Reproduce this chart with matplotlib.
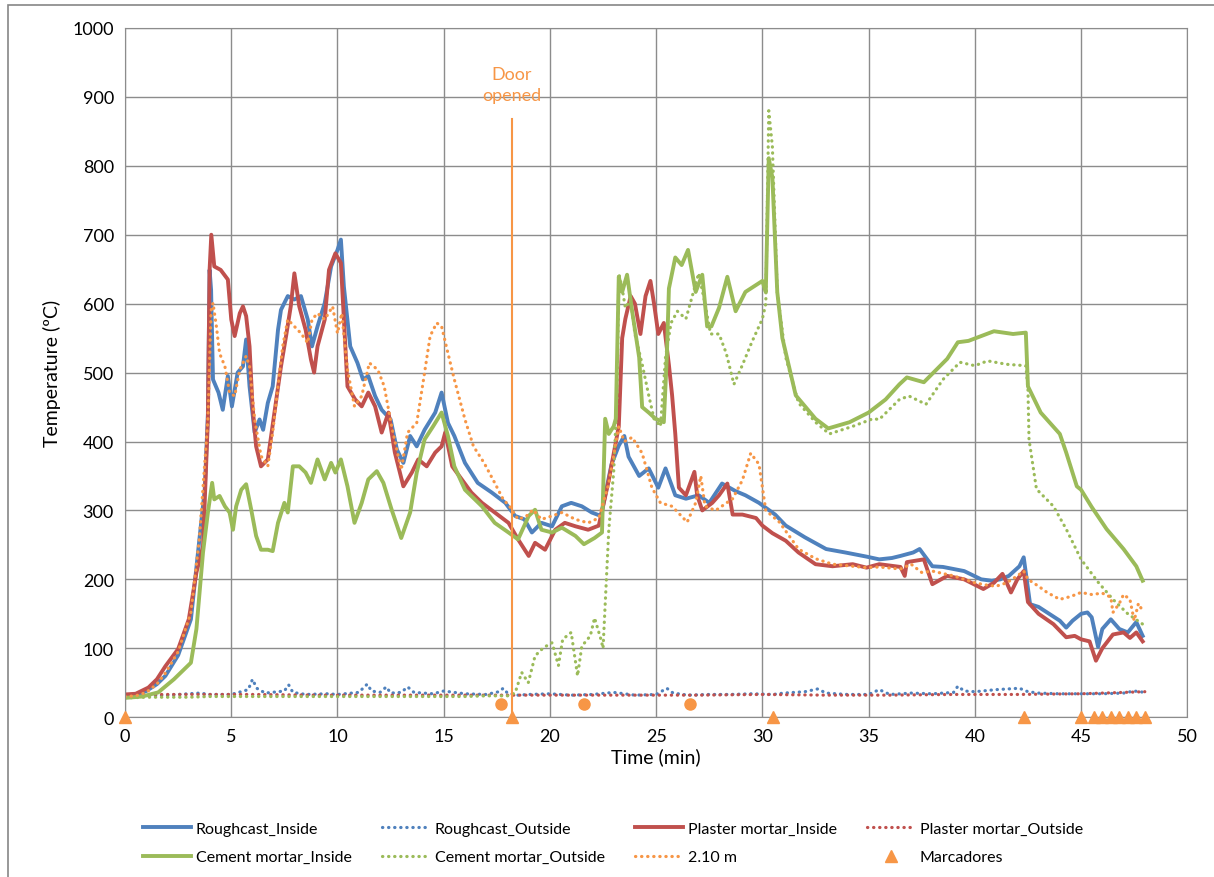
import matplotlib
matplotlib.use('Agg')
import matplotlib.pyplot as plt
from matplotlib.patches import Rectangle

# Temperature records (time in min, temperature in degC)
rough_in_t = [0, 0.5, 1.0, 1.5, 1.9, 2.5, 3.1, 3.5, 3.75, 3.9, 3.98, 4.05, 4.14, 4.4, 4.6, 4.84, 5.03, 5.3,
              5.55, 5.7, 5.86, 6.1, 6.33, 6.5, 6.72, 6.95, 7.2, 7.34, 7.66, 7.97, 8.28, 8.6, 8.8, 9.06, 9.4,
              9.7, 10.0, 10.16, 10.3, 10.6, 10.94, 11.2, 11.45, 11.77, 12.08, 12.5, 12.8, 13.1, 13.42, 13.73,
              14.1, 14.6, 14.9, 15.2, 15.5, 16.0, 16.6, 17.26, 17.9, 18.36, 18.8, 19.15, 19.6, 20.1, 20.56,
              21.0, 21.5, 21.97, 22.4, 22.9, 23.24, 23.5, 23.7, 24.2, 24.65, 25.1, 25.44, 25.9, 26.4, 27.0,
              27.5, 28.1, 28.74, 29.2, 29.84, 30.6, 31.1, 32.0, 33.0, 33.9, 34.9, 35.5, 36.1, 36.5, 37.1,
              37.4, 38.0, 38.5, 39.0, 39.5, 40.3, 40.8, 41.2, 41.6, 42.1, 42.3, 42.6, 43.0, 43.5, 44.0, 44.3,
              44.6, 45.0, 45.3, 45.5, 45.8, 46.0, 46.4, 46.8, 47.2, 47.6, 47.9]
rough_in = [30, 32, 38, 48, 60, 90, 142, 258, 330, 440, 649, 620, 490, 471, 446, 495, 451, 500,
            509, 548, 480, 413, 432, 417, 456, 480, 562, 591, 611, 606, 611, 577, 538, 567, 601,
            654, 678, 693, 625, 538, 514, 490, 495, 466, 446, 432, 388, 369, 408, 393,
            417, 442, 471, 427, 408, 369, 340, 326, 311, 292, 287, 268, 282, 277, 306,
            311, 306, 297, 292, 367, 394, 408, 378, 350, 361, 333, 361, 322, 317, 322,
            311, 339, 328, 322, 311, 294, 278, 261, 244, 239, 233, 229, 231, 234, 239,
            244, 219, 218, 215, 212, 200, 198, 200, 205, 219, 232, 164, 160, 150, 140, 130,
            140, 150, 152, 145, 102, 128, 142, 128, 123, 138, 118]

rough_out_t = [0, 1, 2, 3, 3.5, 4, 5, 5.8, 6.0, 6.2, 6.6, 7.5, 7.7, 7.9, 8.5, 9.5, 10, 11.0, 11.4, 11.6,
               12.0, 12.3, 12.5, 13.0, 13.3, 13.6, 14.5, 15.0, 16.0, 17.0, 17.6, 17.8, 18.0, 18.5, 19, 20,
               21, 22, 23, 24, 25, 25.5, 25.8, 26.5, 27.5, 28.5, 29.5, 30.5, 31, 32, 32.6, 33.0, 34, 35,
               35.5, 36, 37, 38, 39.0, 39.2, 39.5, 40, 41, 42.1, 42.5, 43, 44, 45, 46, 47, 47.5, 48]
rough_out = [30, 31, 32, 34, 35, 33, 33, 40, 55, 42, 35, 38, 47, 36, 33, 34, 33, 36, 48, 38,
             36, 44, 35, 36, 44, 36, 34, 38, 34, 33, 37, 42, 35, 32, 33, 34,
             32, 33, 36, 32, 33, 42, 35, 32, 33, 33, 34, 33, 35, 37, 41, 35, 33, 33,
             40, 33, 35, 34, 36, 45, 38, 37, 40, 42, 37, 35, 34, 34, 34, 35, 38, 36]

plaster_in_t = [0, 0.5, 1.1, 1.5, 1.9, 2.5, 3.0, 3.36, 3.67, 3.9, 3.98, 4.06, 4.2, 4.5, 4.84, 5.0, 5.16,
                5.4, 5.55, 5.7, 5.86, 6.0, 6.17, 6.4, 6.72, 7.03, 7.34, 7.58, 7.8, 7.97, 8.2, 8.5, 8.75,
                8.9, 9.06, 9.4, 9.6, 9.9, 10.16, 10.3, 10.47, 10.83, 11.14, 11.45, 11.77, 12.08, 12.4,
                12.7, 13.1, 13.5, 13.8, 14.2, 14.6, 14.9, 15.07, 15.4, 15.85, 16.3, 16.8, 17.4, 18.05,
                18.5, 19.0, 19.3, 19.77, 20.25, 20.7, 21.2, 21.8, 22.3, 22.77, 23.24, 23.4, 23.55, 23.8,
                24.0, 24.26, 24.5, 24.73, 24.9, 25.1, 25.36, 25.6, 25.75, 25.9, 26.07, 26.4, 26.8, 26.93,
                27.17, 27.64, 27.96, 28.35, 28.6, 29.06, 29.7, 30.0, 30.47, 31.1, 31.7, 32.5, 33.3,
                34.25, 34.9, 35.5, 36.5, 36.7, 36.8, 37.6, 38.0, 38.7, 39.5, 40.4, 40.9, 41.3, 41.5,
                41.7, 42.0, 42.3, 42.5, 43.0, 43.7, 44.3, 44.7, 45.0, 45.4, 45.7, 46.0, 46.5, 47.0,
                47.3, 47.6, 47.9]
plaster_in = [33, 34, 43, 55, 74, 99, 142, 210, 248, 432, 649, 700, 654, 649, 635, 577, 553,
              586, 596, 582, 538, 451, 393, 364, 374, 442, 509, 553, 596, 644, 596, 562, 519,
              500, 538, 577, 649, 673, 659, 577, 480, 461, 451, 471, 451, 413, 442,
              384, 335, 355, 374, 364, 384, 393, 413, 364, 345, 326, 311, 297, 282,
              258, 234, 253, 243, 272, 282, 277, 272, 278, 344, 422, 550, 578, 611,
              600, 556, 611, 633, 600, 556, 572, 511, 467, 411, 333, 322, 356, 322,
              300, 311, 322, 339, 294, 294, 289, 278, 267, 256, 239, 222, 219,
              222, 217, 222, 218, 205, 225, 229, 193, 205, 200, 186, 195, 208, 195,
              181, 200, 212, 167, 150, 135, 116, 118, 113, 110, 82, 100, 120, 123,
              115, 123, 110]

plaster_out_t = [0, 3, 6, 9, 12, 15, 18, 21, 24, 27, 30, 33, 36, 39, 42, 45, 47, 48]
plaster_out = [33, 33, 33, 32, 32, 32, 32, 32, 32, 32, 33, 32, 32, 33, 33, 34, 36, 37]

cement_in_t = [0, 0.8, 1.56, 2.3, 3.1, 3.36, 3.67, 3.9, 4.1, 4.2, 4.45, 4.7, 4.92, 5.08, 5.23, 5.47, 5.7,
               5.94, 6.17, 6.4, 6.72, 6.95, 7.2, 7.5, 7.66, 7.9, 8.2, 8.5, 8.75, 9.06, 9.4, 9.7, 9.9,
               10.16, 10.47, 10.8, 11.14, 11.45, 11.85, 12.16, 12.55, 13.0, 13.42, 13.73, 14.1, 14.5,
               14.9, 15.2, 15.5, 16.0, 16.8, 17.4, 18.05, 18.5, 19.0, 19.3, 19.6, 20.1, 20.56, 21.2,
               21.6, 22.1, 22.45, 22.6, 22.77, 23.0, 23.1, 23.24, 23.4, 23.63, 23.87, 24.2, 24.34,
               24.65, 24.97, 25.36, 25.5, 25.6, 25.9, 26.2, 26.5, 26.86, 27.17, 27.4, 27.6, 27.96,
               28.35, 28.74, 29.2, 30.0, 30.16, 30.3, 30.47, 30.7, 30.94, 31.57, 32.5, 33.1, 34.1,
               35.0, 35.8, 36.45, 36.8, 37.6, 38.7, 39.2, 39.7, 40.9, 41.8, 42.4, 42.5, 43.1, 44.0,
               44.3, 44.8, 45.0, 45.5, 46.2, 47.0, 47.6, 47.9]
cement_in = [28, 30, 36, 55, 79, 128, 239, 297, 340, 316, 321, 306, 297, 272, 306, 330, 338,
             301, 263, 243, 243, 241, 282, 311, 297, 364, 364, 355, 340, 374, 345, 369, 355,
             374, 335, 282, 311, 345, 357, 340, 301, 260, 297, 355, 403, 422,
             442, 408, 364, 330, 306, 282, 268, 258, 292, 301, 272, 268, 275, 263,
             251, 260, 268, 433, 411, 422, 433, 639, 617, 642, 589, 522, 450,
             442, 433, 428, 522, 622, 667, 656, 678, 617, 642, 567, 567, 594,
             639, 589, 617, 633, 617, 811, 783, 617, 550, 467, 433, 419, 428,
             442, 461, 483, 493, 486, 520, 544, 546, 560, 556, 558, 480, 442, 411,
             384, 335, 330, 305, 273, 244, 219, 198]

cement_out_t = [0, 1, 2, 3, 4, 6, 8, 10, 12, 14, 16, 17, 18.0, 18.36, 18.67, 18.98, 19.3, 19.7, 20.1,
                20.4, 20.6, 21.0, 21.3, 21.5, 21.9, 22.1, 22.4, 22.5, 22.77, 23.0, 23.16, 23.24, 23.4,
                23.55, 23.8, 24.0, 24.35, 24.65, 24.9, 25.2, 25.44, 25.7, 26.0, 26.4, 26.7, 27.0, 27.3,
                27.56, 27.96, 28.3, 28.66, 29.06, 29.5, 30.0, 30.16, 30.3, 30.47, 30.7, 31.1, 31.7,
                32.5, 33.15, 34.25, 35.2, 35.5, 36.45, 36.9, 37.7, 38.5, 39.3, 40.0, 40.6, 41.5, 42.4,
                42.5, 42.55, 42.9, 43.7, 44.3, 45.0, 45.8, 46.5, 47.2, 47.9]
cement_out = [28, 29, 29, 29, 30, 30, 30, 30, 30, 30, 30, 31, 31, 35, 65, 50, 89, 101, 108,
              75, 113, 123, 60, 103, 118, 144, 113, 100, 272, 356, 467, 644, 622,
              594, 606, 556, 511, 467, 433, 422, 522, 572, 589, 578, 611, 644, 600,
              556, 556, 528, 483, 511, 544, 578, 600, 880, 828, 617, 522, 456,
              428, 411, 422, 433, 432, 461, 466, 454, 490, 515, 510, 517, 512, 510,
              476, 403, 331, 306, 273, 229, 196, 171, 150, 135]

h210_t = [0, 0.5, 1.0, 1.5, 1.9, 2.5, 3.1, 3.5, 3.9, 4.05, 4.14, 4.3, 4.45, 4.7, 4.92, 5.16, 5.4, 5.7,
          5.86, 6.1, 6.4, 6.72, 6.95, 7.2, 7.42, 7.66, 7.97, 8.28, 8.6, 8.8, 9.06, 9.4, 9.77, 10.0,
          10.2, 10.47, 10.8, 11.14, 11.5, 11.9, 12.2, 12.55, 13.0, 13.3, 13.73, 14.05, 14.36, 14.67,
          14.9, 15.2, 15.5, 16.0, 16.4, 16.9, 17.4, 17.8, 18.1, 18.5, 18.9, 19.2, 19.6, 20.1, 20.56,
          21.2, 21.8, 22.3, 22.77, 23.24, 23.5, 23.87, 24.34, 24.8, 25.2, 25.75, 26.46, 26.86, 27.1,
          27.3, 27.8, 28.6, 29.06, 29.45, 29.84, 30.16, 30.8, 31.7, 32.5, 33.3, 34.9, 35.5, 36.5,
          37.0, 37.5, 38.0, 39.0, 40.0, 40.5, 41.0, 41.5, 42.0, 42.3, 42.5, 43.0, 43.4, 44.0, 44.5,
          45.0, 45.5, 46.0, 46.4, 46.5, 46.8, 47.0, 47.3, 47.5, 47.7, 47.9]
h210 = [30, 31, 36, 48, 64, 95, 152, 260, 432, 590, 601, 567, 528, 509, 471, 466, 504, 524,
        509, 432, 379, 364, 413, 480, 538, 577, 567, 557, 543, 577, 586, 577, 596, 557,
        586, 504, 451, 466, 514, 504, 480, 422, 359, 413, 427, 490, 553, 572,
        567, 528, 490, 432, 393, 369, 340, 316, 306, 287, 292, 301, 287, 292, 297,
        287, 282, 289, 339, 422, 400, 406, 383, 333, 311, 306, 283, 311, 350,
        306, 300, 317, 344, 383, 367, 300, 283, 244, 230, 222, 217, 218, 215,
        222, 210, 212, 205, 195, 192, 190, 195, 205, 212, 200, 190, 181, 171, 175,
        181, 178, 180, 174, 152, 165, 178, 171, 140, 165, 154]

# Event markers
marker_t = [0, 18.2, 30.5, 42.3, 45.0, 45.6, 46.0, 46.4, 46.8, 47.2, 47.6, 48.0]
marker_y = [0] * len(marker_t)
dot_t = [17.7, 21.6, 26.6]
dot_y = [19, 19, 19]
door_t = 18.2
door_top = 868

blue = '#4F81BD'
red = '#C0504D'
green = '#9BBB59'
orange = '#F79646'
grid_grey = '#8C8C8C'

plt.rcParams['font.family'] = ['Lato', 'DejaVu Sans']

fig = plt.figure(figsize=(12.14, 8.78), dpi=100)
ax = fig.add_axes([0.103, 0.182, 0.875, 0.785])

dot = dict(linestyle=(0, (0.1, 1.8)), dash_capstyle='round', linewidth=2.3)
l1, = ax.plot(rough_in_t, rough_in, color=blue, lw=2.8, label='Roughcast_Inside')
l2, = ax.plot(rough_out_t, rough_out, color=blue, label='Roughcast_Outside', **dot)
l3, = ax.plot(plaster_in_t, plaster_in, color=red, lw=2.8, label='Plaster mortar_Inside')
l4, = ax.plot(plaster_out_t, plaster_out, color=red, label='Plaster mortar_Outside', **dot)
l5, = ax.plot(cement_in_t, cement_in, color=green, lw=2.8, label='Cement mortar_Inside')
l6, = ax.plot(cement_out_t, cement_out, color=green, label='Cement mortar_Outside', **dot)
l7, = ax.plot(h210_t, h210, color=orange, label='2.10 m', **dot)
l8, = ax.plot(marker_t, marker_y, linestyle='none', marker='^', color=orange, markersize=9,
              clip_on=False, zorder=5, label='Marcadores')
ax.plot(dot_t, dot_y, linestyle='none', marker='o', color=orange, markersize=8, zorder=5)

# door opening
ax.plot([door_t, door_t], [0, door_top], color=orange, lw=1.5)
ax.text(door_t, 918, 'Door\nopened', color=orange, ha='center', va='center', fontsize=13,
        linespacing=1.35)

ax.set_xlim(0, 50)
ax.set_ylim(0, 1000)
ax.set_xticks(range(0, 51, 5))
ax.set_yticks(range(0, 1001, 100))
ax.tick_params(length=0, labelsize=13, pad=8)
ax.grid(True, color=grid_grey, lw=1)
ax.set_axisbelow(True)
for s in ax.spines.values():
    s.set_color(grid_grey)
ax.set_xlabel('Time (min)', fontsize=14, labelpad=2)
ax.set_ylabel('Temperature (ºC)', fontsize=14, labelpad=8)

# legend filled row by row: 4 columns, 2 rows
handles = [l1, l5, l2, l6, l3, l7, l4, l8]
fig.legend(handles=handles, labels=[h.get_label() for h in handles],
           loc='center', bbox_to_anchor=(0.505, 0.039), ncol=4, frameon=False,
           prop={'size': 11.5}, handlelength=3.0, columnspacing=1.9,
           handletextpad=0.3, labelspacing=0.9)

# outer chart border
fig.patches.append(Rectangle((8 / 1214, -0.02), 1.0, (878 - 6) / 878 + 0.02,
                             transform=fig.transFigure, fill=False, edgecolor='#868686', lw=1.2))

fig.savefig('out.png', dpi=100)
